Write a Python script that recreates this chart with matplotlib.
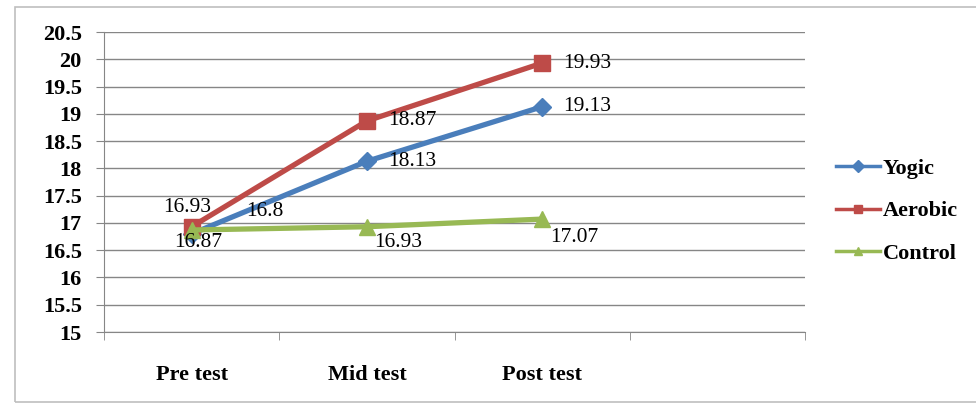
import numpy as np
import matplotlib
matplotlib.use('Agg')
import matplotlib.pyplot as plt
from matplotlib.patches import Rectangle

categories = ['Pre test', 'Mid test', 'Post test']
series_names = ['Yogic', 'Aerobic', 'Control']
yogic = [16.8, 18.13, 19.13]
aerobic = [16.93, 18.87, 19.93]
control = [16.87, 16.93, 17.07]
y_ticks = np.arange(15, 20.51, 0.5)

colors = ['#4A7EBB', '#BE4B48', '#98B954']
markers = ['D', 's', '^']
msizes = [9, 11, 11]

# label offsets in points (dx, dy) and horizontal alignment, per series/point
label_offsets = [
    [(39, 16, 'left'), (15, 0, 'left'), (15, 0, 'left')],
    [(-3, 14, 'center'), (15, 0, 'left'), (15, 0, 'left')],
    [(5, -9, 'center'), (5, -11, 'left'), (6, -13, 'left')],
]

plt.rcParams['font.family'] = ['Liberation Serif', 'DejaVu Serif']

fig = plt.figure(figsize=(9.76, 4.04), dpi=100)
fig.patches.append(Rectangle((15 / 976, 2 / 404), 1.0, 395 / 404, transform=fig.transFigure,
                             fill=False, edgecolor='#BFBFBF', linewidth=1.2))

ax = fig.add_axes([104 / 976, 1 - 332 / 404, (805 - 104) / 976, 300 / 404])
x = np.arange(len(categories))

for vals, name, c, m, ms, offs in zip([yogic, aerobic, control], series_names, colors,
                                      markers, msizes, label_offsets):
    ax.plot(x, vals, color=c, lw=3.8, marker=m, markersize=ms, label=name, zorder=3)
    for xi, v, (dx, dy, ha) in zip(x, vals, offs):
        ax.annotate('%g' % v, (xi, v), xytext=(dx, dy), textcoords='offset points',
                    ha=ha, va='center', fontsize=15.5, color='black', zorder=4)

ax.set_xlim(-0.5, 3.5)
ax.set_ylim(15, 20.5)
ax.set_yticks(y_ticks)
ax.set_yticklabels(['%g' % t for t in y_ticks], fontsize=16, fontweight='bold')
ax.set_xticks(x)
ax.set_xticklabels(categories, fontsize=16, fontweight='bold')
ax.set_xticks(np.arange(-0.5, 3.6, 1), minor=True)
ax.tick_params(axis='x', which='major', length=0, pad=24)
ax.tick_params(axis='x', which='minor', length=6, color='#868686', direction='out')
ax.tick_params(axis='y', length=6, color='#868686', pad=10)
ax.grid(axis='y', color='#868686', lw=1)
ax.set_axisbelow(True)
for s in ['top', 'right']:
    ax.spines[s].set_visible(False)
for s in ['left', 'bottom']:
    ax.spines[s].set_color('#868686')

leg = ax.legend(loc='center left', bbox_to_anchor=(816 / 976, 1 - 211 / 404),
                bbox_transform=fig.transFigure, frameon=False, handlelength=2.0,
                handletextpad=0.1, labelspacing=0.98, prop={'weight': 'bold', 'size': 16})
for h in leg.legend_handles:
    h.set_markersize(6)
    h.set_linewidth(2.5)

fig.savefig('out.png', dpi=100)
